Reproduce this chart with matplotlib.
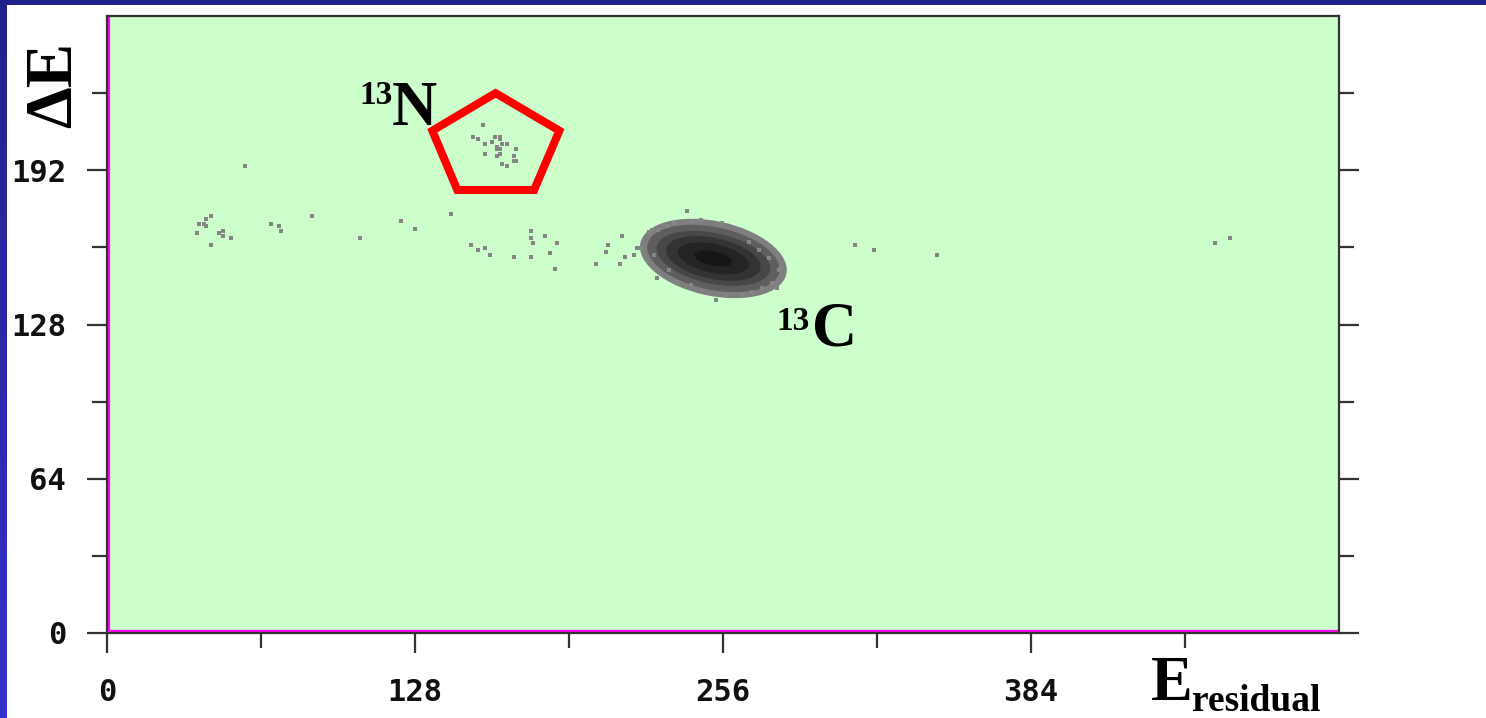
import numpy as np
import matplotlib
matplotlib.use("Agg")
import matplotlib.pyplot as plt
from matplotlib.patches import Rectangle, Polygon, Ellipse
from matplotlib.colors import LinearSegmentedColormap

W, H, DPI = 1486, 718, 100

# ---- data (channel units) ----
x_major = [0, 128, 256, 384]
x_minor = [64, 192, 320, 448]
y_major = [0, 64, 128, 192]
y_minor = [32, 96, 160, 224]

# main 13C blob described by nested intensity contours
blob_center = (252.0, 155.4)
blob_angle = -12.0
blob_width = [62, 56, 48, 40, 30, 16]
blob_height = [31, 26, 21, 17, 12, 6]
blob_shade = ["#7e7e7e", "#5e5e5e", "#474747", "#333333", "#242424", "#161616"]

# sparse counts around the blob edge
fringe_x = [240.9, 235.7, 232.9, 243.3, 246.8, 225.3, 226.6, 229.0, 220.4, 221.8,
            228.7, 233.6, 227.3, 237.0, 242.6, 219.0, 255.7, 266.8, 271.0, 275.1,
            279.3, 280.0, 278.6, 276.5, 272.4, 264.0, 268.2, 257.8, 253.0, 203.1,
            207.3, 208.1, 213.9, 213.2, 215.2]
fringe_y = [175.1, 170.0, 169.0, 171.0, 171.4, 166.5, 167.2, 167.2, 159.9, 159.9,
            147.2, 150.6, 156.8, 145.8, 144.4, 156.8, 170.0, 162.4, 159.0, 155.5,
            150.6, 151.3, 143.0, 145.1, 143.0, 140.2, 141.6, 140.2, 138.2, 153.0,
            158.0, 160.9, 164.9, 153.0, 155.9]

# scattered events along the band
band_x = [37.3, 38.4, 40.3, 41.3, 43.3, 41.3, 46.4, 48.3, 48.3, 51.4, 43.3, 68.3,
          71.4, 72.3, 85.3, 105.3, 122.2, 128.1, 143.1, 151.2, 154.2, 157.2, 159.2,
          169.2, 176.1, 176.1, 177.1, 176.1, 182.0, 184.1, 187.2, 186.1, 57.3,
          310.9, 318.9, 344.8, 460.6, 466.6]
band_y = [165.9, 169.8, 169.8, 171.8, 172.9, 168.9, 165.9, 166.8, 164.9, 163.9,
          160.9, 169.8, 168.9, 166.8, 172.9, 163.9, 170.8, 167.8, 173.9, 160.9,
          159.0, 159.9, 156.8, 155.9, 166.8, 163.9, 161.8, 155.9, 164.9, 157.8,
          161.8, 150.9, 193.9, 160.9, 158.8, 156.8, 161.8, 163.9]

# 13N events
n13_x = [156.2, 152.3, 154.2, 157.2, 160.1, 161.1, 163.2, 163.2, 164.2, 166.1,
         162.2, 163.2, 162.2, 170.1, 157.1, 163.2, 162.2, 169.2, 169.2, 170.1,
         164.2, 166.1]
n13_y = [210.8, 205.8, 204.9, 202.8, 203.9, 205.8, 205.8, 204.9, 202.8, 202.8,
         201.8, 200.8, 200.8, 200.8, 198.8, 198.8, 197.8, 197.8, 195.9, 195.9,
         194.7, 193.8]

# 13N gate
gate_x = [161.5, 188.0, 177.5, 145.6, 135.2]
gate_y = [224.0, 208.4, 183.8, 183.8, 208.4]

# ---- figure ----
fig = plt.figure(figsize=(W / DPI, H / DPI), dpi=DPI, facecolor="white")

# slide frame: top bar and left gradient bar
fig.patches.append(Rectangle((0, 1 - 5 / H), 1, 5 / H, transform=fig.transFigure,
                             facecolor="#20208a", edgecolor="none", zorder=0))
strip = fig.add_axes([0, 0, 7 / W, 1])
grad = np.linspace(0, 1, 256).reshape(-1, 1)
cmap = LinearSegmentedColormap.from_list("frame", ["#20208a", "#3434cc"])
strip.imshow(grad, aspect="auto", cmap=cmap, extent=[0, 1, 0, 1], origin="upper")
strip.set_axis_off()

ax = fig.add_axes([107 / W, 1 - 633 / H, (1339 - 107) / W, (633 - 16) / H])
ax.set_facecolor("#ccffcc")
ax.set_xlim(0, 512)
ax.set_ylim(0, 256)

for w, h, c in zip(blob_width, blob_height, blob_shade):
    ax.add_patch(Ellipse(blob_center, w, h, angle=blob_angle, facecolor=c,
                         edgecolor="none", zorder=3))

dot_kw = dict(marker="s", ms=2.2, mew=0, ls="none", color="#858585", zorder=3)
ax.plot(fringe_x, fringe_y, **dot_kw)
ax.plot(band_x, band_y, **dot_kw)
ax.plot(n13_x, n13_y, **dot_kw)

ax.add_patch(Polygon(list(zip(gate_x, gate_y)), closed=True, fill=False,
                     edgecolor="#ff0000", lw=5.8, joinstyle="miter", zorder=4))

# magenta inner edge on left and bottom
ax.axhline(0, color="#ff00ff", lw=4.5, zorder=2.4)
ax.axvline(0, color="#ff00ff", lw=4.5, zorder=2.4)

for s in ax.spines.values():
    s.set_color("#333333")
    s.set_linewidth(1.6)

ax.set_xticks(x_major)
ax.set_xticks(x_minor, minor=True)
ax.set_yticks(y_major)
ax.set_yticks(y_minor, minor=True)
ax.set_xticklabels([str(v) for v in x_major])
ax.set_yticklabels([str(v) for v in y_major])
ax.tick_params(which="both", direction="out", left=True, right=True, bottom=True,
               top=False, labelright=False, color="#333333", width=1.6)
ax.tick_params(which="major", length=14.5)
ax.tick_params(which="minor", length=10.8)
ax.tick_params(axis="y", which="major", pad=15)
ax.tick_params(axis="x", which="major", pad=18)
for lab in ax.get_xticklabels() + ax.get_yticklabels():
    lab.set_fontfamily("DejaVu Sans Mono")
    lab.set_fontweight("bold")
    lab.set_fontsize(22)
    lab.set_color("#111111")

serif = "Liberation Serif"
ax.text(104.7, 219.5, "13", fontsize=24, fontweight="bold", family=serif,
        ha="left", va="baseline", zorder=5)
ax.text(118.5, 210.8, "N", fontsize=45, fontweight="bold", family=serif,
        ha="left", va="baseline", zorder=5)
ax.text(278.0, 125.7, "13", fontsize=24, fontweight="bold", family=serif,
        ha="left", va="baseline", zorder=5)
ax.text(293.0, 119.1, "C", fontsize=45, fontweight="bold", family=serif,
        ha="left", va="baseline", zorder=5)

fig.text(55 / W, 1 - 85 / H, "ΔE", rotation=90, fontsize=48, fontweight="bold",
         family=serif, ha="center", va="center")
fig.text(1151 / W, 1 - 700 / H, "E", fontsize=45, fontweight="bold", family=serif,
         ha="left", va="baseline")
fig.text(1192 / W, 1 - 711 / H, "residual", fontsize=27, fontweight="bold",
         family=serif, ha="left", va="baseline")

fig.savefig("out.png", dpi=DPI, facecolor="white")
